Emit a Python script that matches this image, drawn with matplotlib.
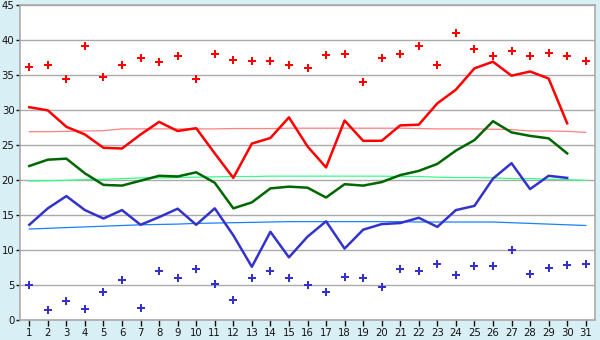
import matplotlib
matplotlib.use("Agg")
import matplotlib.pyplot as plt
import numpy as np

days = list(range(1, 32))

max_record = [36.2, 36.4, 34.4, 39.1, 34.7, 36.4, 37.4, 36.9, 37.7, 34.4,
              38.0, 37.1, 36.95, 36.95, 36.4, 35.95, 37.8, 38.0, 33.95, 37.5,
              38.0, 39.1, 36.4, 40.95, 38.7, 37.7, 38.5, 37.7, 38.1, 37.7, 36.95]
max_mean = [30.4, 29.95, 27.6, 26.5, 24.6, 24.5, 26.5, 28.3, 27.0, 27.4,
            23.8, 20.3, 25.2, 26.0, 28.95, 24.8, 21.8, 28.5, 25.6, 25.6,
            27.8, 27.9, 30.95, 32.9, 35.95, 36.9, 34.9, 35.5, 34.5, 28.1, None]
max_trend = [26.9, 26.9, 26.95, 27.0, 27.05, 27.3, 27.3, 27.3, 27.3, 27.3,
             27.3, 27.35, 27.35, 27.35, 27.4, 27.4, 27.4, 27.4, 27.4, 27.4,
             27.4, 27.35, 27.3, 27.3, 27.3, 27.25, 27.2, 27.0, 27.0, 26.95, 26.8]

avg_mean = [22.0, 22.9, 23.05, 20.95, 19.3, 19.2, 19.9, 20.6, 20.5, 21.1,
            19.6, 15.95, 16.8, 18.8, 19.05, 18.9, 17.5, 19.4, 19.2, 19.7,
            20.7, 21.3, 22.3, 24.2, 25.7, 28.4, 26.8, 26.3, 25.95, 23.8, None]
avg_trend = [19.85, 19.9, 19.95, 20.05, 20.1, 20.2, 20.3, 20.3, 20.35, 20.4,
             20.45, 20.5, 20.5, 20.55, 20.55, 20.55, 20.55, 20.55, 20.55, 20.55,
             20.5, 20.5, 20.4, 20.35, 20.35, 20.3, 20.2, 20.2, 20.1, 20.05, 19.95]

min_mean = [13.6, 15.95, 17.7, 15.7, 14.5, 15.7, 13.6, 14.7, 15.9, 13.6,
            15.95, 12.1, 7.6, 12.6, 8.95, 11.9, 14.1, 10.2, 12.9, 13.7,
            13.85, 14.6, 13.3, 15.7, 16.3, 20.2, 22.4, 18.7, 20.6, 20.3, None]
min_trend = [13.0, 13.1, 13.2, 13.3, 13.4, 13.5, 13.6, 13.65, 13.7, 13.8,
             13.85, 13.9, 13.95, 14.0, 14.05, 14.05, 14.05, 14.05, 14.05, 14.05,
             14.05, 14.0, 14.0, 14.0, 14.0, 14.0, 13.9, 13.8, 13.7, 13.6, 13.5]
min_record = [4.95, 1.38, 2.67, 1.52, 3.95, 5.67, 1.71, 6.95, 5.95, 7.24,
              5.1, 2.8, 5.95, 6.95, 5.95, 4.95, 3.95, 6.1, 5.95, 4.67,
              7.24, 6.95, 7.95, 6.38, 7.67, 7.67, 9.95, 6.52, 7.38, 7.81, 7.95]

y_ticks = [0, 5, 10, 15, 20, 25, 30, 35, 40, 45]

def arr(v):
    return np.array([np.nan if x is None else x for x in v], dtype=float)

bg = "#d9eff6"
fig = plt.figure(figsize=(6.0, 3.4), dpi=100, facecolor=bg)
ax = fig.add_axes([20/600, 20/340, 575/600, 315/340])
ax.set_facecolor("white")

ax.set_xlim(0.5, 31.5)
ax.set_ylim(0, 45)
ax.set_yticks(y_ticks)
ax.set_xticks(days)
ax.set_xticklabels([str(d) for d in days])
ax.yaxis.grid(True, color="#aaaaaa", linewidth=1.0)
ax.set_axisbelow(True)

for s in ax.spines.values():
    s.set_color("#aaaaaa")
    s.set_linewidth(1.2)

ax.tick_params(axis="both", labelsize=7.3, colors="#111111", width=1)
ax.tick_params(axis="y", length=3, pad=1)
ax.tick_params(axis="x", length=4, pad=2)

x = np.array(days)
# trend lines
ax.plot(x, arr(max_trend), color="#ff8080", lw=0.9, zorder=2)
ax.plot(x, arr(avg_trend), color="#33ff88", lw=0.9, zorder=2)
ax.plot(x, arr(min_trend), color="#1a80ff", lw=0.9, zorder=2)
# means
ax.plot(x, arr(max_mean), color="#ff0000", lw=1.8, zorder=3)
ax.plot(x, arr(avg_mean), color="#006600", lw=1.8, zorder=3)
ax.plot(x, arr(min_mean), color="#3333cc", lw=1.8, zorder=3)
# records
ax.plot(x, arr(max_record), linestyle="none", marker="P", markersize=5.5,
        color="#ff0000", markeredgewidth=0, zorder=4)
ax.plot(x, arr(min_record), linestyle="none", marker="P", markersize=5.5,
        color="#3333cc", markeredgewidth=0, zorder=4)

fig.savefig("out.png", dpi=100, facecolor=bg)
